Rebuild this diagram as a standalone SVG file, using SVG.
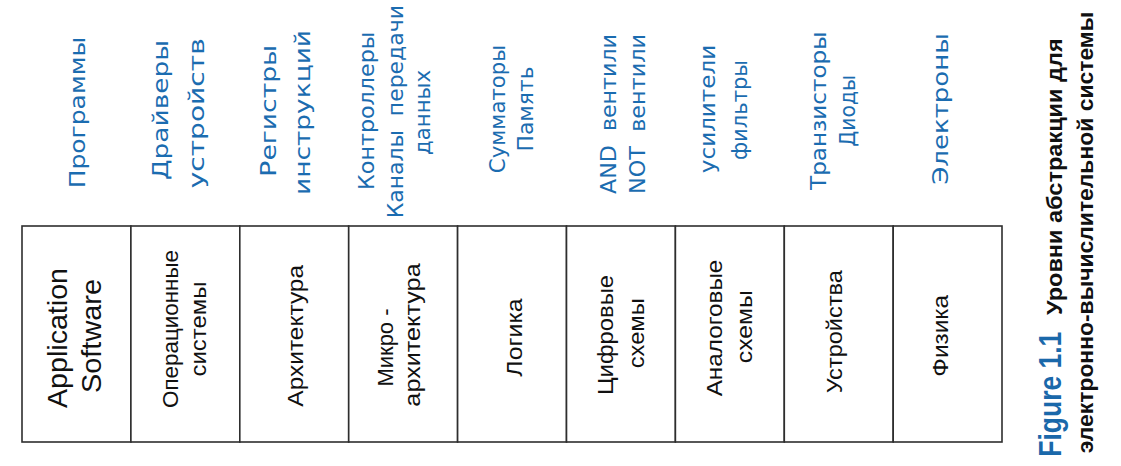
<svg xmlns="http://www.w3.org/2000/svg" width="1121" height="466" viewBox="0 0 1121 466">
<style>
.bg{fill:#ffffff}
.cell{fill:#ffffff;stroke:#2e2e2e;stroke-width:1.6}
.t{font-family:"Liberation Sans",Arial,sans-serif;font-size:22.5px;fill:#111111;text-anchor:middle}
.big{font-size:28px}
.lbl{font-family:"DejaVu Sans",Verdana,sans-serif;font-size:21px;fill:#1b6cb0;text-anchor:middle}
.cap{font-family:"Liberation Sans",Arial,sans-serif;font-weight:bold;font-size:21.5px;fill:#111111;text-anchor:middle}
.fig{font-family:"Liberation Sans Narrow","Liberation Sans",Arial,sans-serif;font-weight:bold;font-size:31px;fill:#1a68aa;text-anchor:middle}
</style>
<rect class="bg" x="0" y="0" width="1121" height="466"/>
<g id="connectors"/>
<g id="n1">
<rect class="cell" x="22" y="226" width="108.9" height="216"/>
<text class="t big" transform="translate(67.3,338) rotate(-90)" textLength="140" lengthAdjust="spacingAndGlyphs">Application</text>
<text class="t big" transform="translate(100.8,336) rotate(-90)" textLength="114" lengthAdjust="spacingAndGlyphs">Software</text>
<text class="lbl" transform="translate(85,112.5) rotate(-90)" textLength="151.6" lengthAdjust="spacingAndGlyphs">Программы</text>
</g>
<g id="n2">
<rect class="cell" x="130.9" y="226" width="108.9" height="216"/>
<text class="t" transform="translate(177.5,329) rotate(-90)" textLength="158" lengthAdjust="spacingAndGlyphs">Операционные</text>
<text class="t" transform="translate(206.4,329) rotate(-90)" textLength="95" lengthAdjust="spacingAndGlyphs">системы</text>
<text class="lbl" transform="translate(168,110) rotate(-90)" textLength="140" lengthAdjust="spacingAndGlyphs">Драйверы</text>
<text class="lbl" transform="translate(204,113.3) rotate(-90)" textLength="150" lengthAdjust="spacingAndGlyphs">устройств</text>
</g>
<g id="n3">
<rect class="cell" x="239.8" y="226" width="108.9" height="216"/>
<text class="t" transform="translate(303.2,335.8) rotate(-90)" textLength="141.7" lengthAdjust="spacingAndGlyphs">Архитектура</text>
<text class="lbl" transform="translate(276,110.8) rotate(-90)" textLength="131.7" lengthAdjust="spacingAndGlyphs">Регистры</text>
<text class="lbl" transform="translate(309.5,112.5) rotate(-90)" textLength="165" lengthAdjust="spacingAndGlyphs">инструкций</text>
</g>
<g id="n4">
<rect class="cell" x="348.7" y="226" width="108.9" height="216"/>
<text class="t" transform="translate(393,347.5) rotate(-90)" textLength="78" lengthAdjust="spacingAndGlyphs">Микро -</text>
<text class="t" transform="translate(420.3,335) rotate(-90)" textLength="143.3" lengthAdjust="spacingAndGlyphs">архитектура</text>
<text class="lbl" transform="translate(374,110.8) rotate(-90)" textLength="158.3" lengthAdjust="spacingAndGlyphs">Контроллеры</text>
<text class="lbl" xml:space="preserve" transform="translate(402.5,111.7) rotate(-90)" textLength="213.3" lengthAdjust="spacingAndGlyphs">Каналы  передачи</text>
<text class="lbl" transform="translate(429.5,112.5) rotate(-90)" textLength="85" lengthAdjust="spacingAndGlyphs">данных</text>
</g>
<g id="n5">
<rect class="cell" x="457.6" y="226" width="108.9" height="216"/>
<text class="t" transform="translate(521.5,337.5) rotate(-90)" textLength="78.3" lengthAdjust="spacingAndGlyphs">Логика</text>
<text class="lbl" transform="translate(504.7,109) rotate(-90)" textLength="128.3" lengthAdjust="spacingAndGlyphs">Сумматоры</text>
<text class="lbl" transform="translate(533.4,109) rotate(-90)" textLength="85" lengthAdjust="spacingAndGlyphs">Память</text>
</g>
<g id="n6">
<rect class="cell" x="566.5" y="226" width="108.9" height="216"/>
<text class="t" transform="translate(613,335) rotate(-90)" textLength="120" lengthAdjust="spacingAndGlyphs">Цифровые</text>
<text class="t" transform="translate(643.7,333.3) rotate(-90)" textLength="70" lengthAdjust="spacingAndGlyphs">схемы</text>
<text class="lbl" xml:space="preserve" transform="translate(616,114) rotate(-90)" textLength="160" lengthAdjust="spacingAndGlyphs">AND  вентили</text>
<text class="lbl" xml:space="preserve" transform="translate(644.7,114) rotate(-90)" textLength="160" lengthAdjust="spacingAndGlyphs">NOT  вентили</text>
</g>
<g id="n7">
<rect class="cell" x="675.4" y="226" width="108.9" height="216"/>
<text class="t" transform="translate(721.5,328) rotate(-90)" textLength="136.7" lengthAdjust="spacingAndGlyphs">Аналоговые</text>
<text class="t" transform="translate(752,326.7) rotate(-90)" textLength="73" lengthAdjust="spacingAndGlyphs">схемы</text>
<text class="lbl" transform="translate(715,109) rotate(-90)" textLength="128.3" lengthAdjust="spacingAndGlyphs">усилители</text>
<text class="lbl" transform="translate(747,110) rotate(-90)" textLength="100" lengthAdjust="spacingAndGlyphs">фильтры</text>
</g>
<g id="n8">
<rect class="cell" x="784.3" y="226" width="108.9" height="216"/>
<text class="t" transform="translate(841.5,331.7) rotate(-90)" textLength="123.3" lengthAdjust="spacingAndGlyphs">Устройства</text>
<text class="lbl" transform="translate(826,110.8) rotate(-90)" textLength="158.3" lengthAdjust="spacingAndGlyphs">Транзисторы</text>
<text class="lbl" transform="translate(854.7,110.8) rotate(-90)" textLength="71.7" lengthAdjust="spacingAndGlyphs">Диоды</text>
</g>
<g id="n9">
<rect class="cell" x="893.2" y="226" width="108.8" height="216"/>
<text class="t" transform="translate(948,335.8) rotate(-90)" textLength="81.7" lengthAdjust="spacingAndGlyphs">Физика</text>
<text class="lbl" transform="translate(948,109) rotate(-90)" textLength="151.7" lengthAdjust="spacingAndGlyphs">Электроны</text>
</g>
<g id="caption">
<text class="fig" transform="translate(1060.5,394.2) rotate(-90)" textLength="125" lengthAdjust="spacingAndGlyphs">Figure 1.1</text>
<text class="cap" transform="translate(1062,176.7) rotate(-90)" textLength="276.7" lengthAdjust="spacingAndGlyphs">Уровни абстракции для</text>
<text class="cap" transform="translate(1093,232.5) rotate(-90)" textLength="441.6" lengthAdjust="spacingAndGlyphs">электронно-вычислительной системы</text>
</g>
</svg>
